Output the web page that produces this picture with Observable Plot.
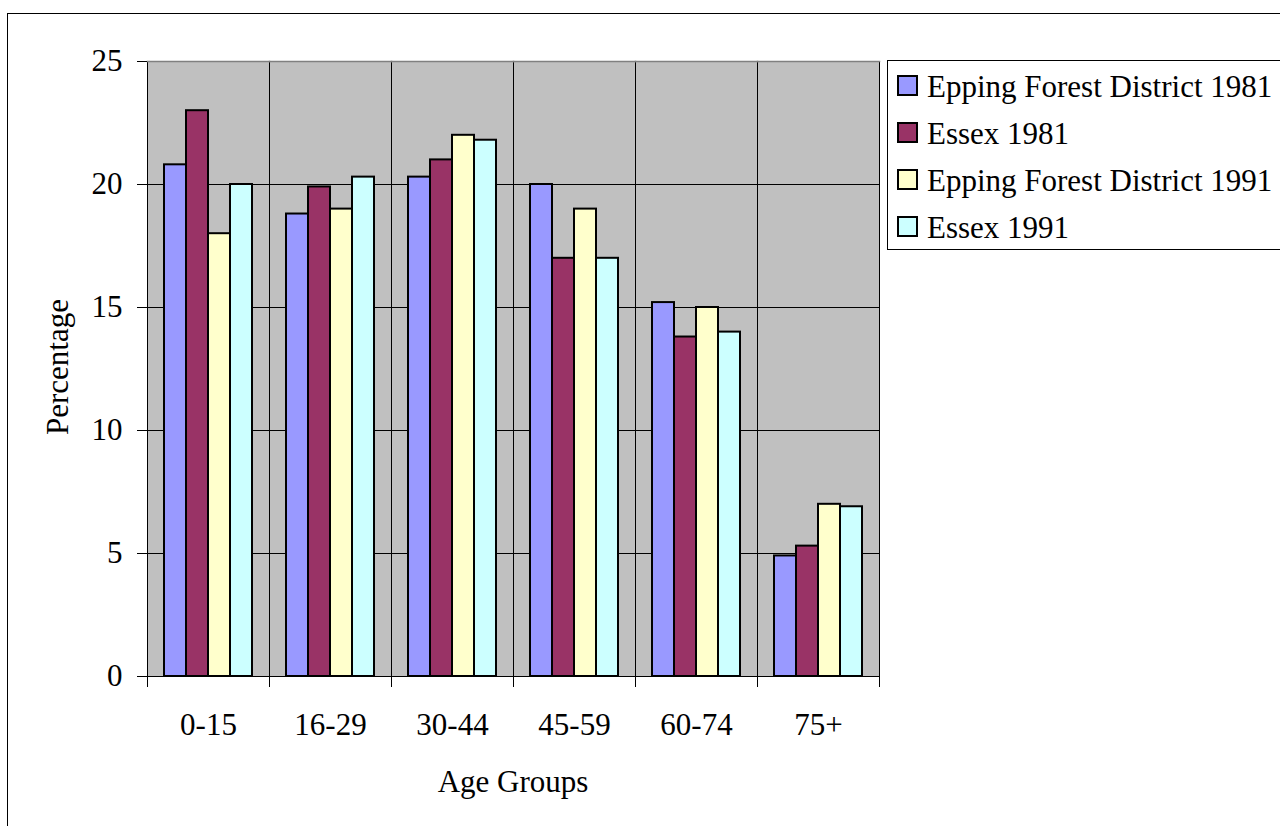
<!DOCTYPE html>
<html>
<head>
<meta charset="utf-8">
<script src="https://cdn.jsdelivr.net/npm/d3@7"></script>
<script src="https://cdn.jsdelivr.net/npm/@observablehq/plot@0.6"></script>
<style>
  html, body { margin: 0; padding: 0; background: #fff; overflow: hidden; width: 1280px; height: 826px; }
  #wrap { position: relative; width: 1280px; height: 826px; }
  #border { position: absolute; left: 7px; top: 13px; width: 1400px; height: 1000px; border: 1px solid #000; box-sizing: border-box; }
  #chart { position: absolute; left: 0; top: 0; }
  #overlay { position: absolute; left: 0; top: 0; pointer-events: none; }
</style>
</head>
<body>
<div id="wrap">
  <div id="border"></div>
  <div id="chart"></div>
  <svg id="overlay" width="1280" height="826"></svg>
</div>
<script>
const groups = ["0-15", "16-29", "30-44", "45-59", "60-74", "75+"];
const series = ["Epping Forest District 1981", "Essex 1981", "Epping Forest District 1991", "Essex 1991"];
const efd1981 = [20.8, 18.8, 20.3, 20.0, 15.2, 4.9];
const essex1981 = [23.0, 19.9, 21.0, 17.0, 13.8, 5.3];
const efd1991 = [18.0, 19.0, 22.0, 19.0, 15.0, 7.0];
const essex1991 = [20.0, 20.3, 21.8, 17.0, 14.0, 6.9];
const colors = ["#9999FF", "#993366", "#FFFFCC", "#CCFFFF"];
const yTicks = [0, 5, 10, 15, 20, 25];
const yLabel = "Percentage";
const xLabel = "Age Groups";

const valuesBySeries = [efd1981, essex1981, efd1991, essex1991];
const data = [];
groups.forEach((g, i) => {
  series.forEach((s, j) => {
    data.push({group: g, series: s, value: valuesBySeries[j][i]});
  });
});

const font = "'Liberation Serif', 'Times New Roman', serif";

const chart = Plot.plot({
  width: 1280,
  height: 826,
  marginLeft: 147,
  marginRight: 401,
  marginTop: 61,
  marginBottom: 150,
  style: {fontFamily: font, fontSize: "31px", background: "transparent", color: "#000"},
  fx: {domain: groups, padding: 0, label: null},
  x: {domain: series, paddingInner: 0, paddingOuter: 0.74, axis: null},
  y: {domain: [0, 25], label: null},
  color: {domain: series, range: colors},
  marks: [
    Plot.frame({fill: "#C0C0C0", stroke: "none"}),
    Plot.gridY(yTicks.filter(t => t > 0 && t < 25), {stroke: "#000", strokeOpacity: 1, strokeWidth: 1}),
    Plot.frame({anchor: "left", stroke: "#000", strokeWidth: 1, insetBottom: -10}),
    Plot.frame({anchor: "right", stroke: "#000", strokeWidth: 1, insetBottom: -10}),
    Plot.barY(data, {fx: "group", x: "series", y: "value", fill: "series", stroke: "#000", strokeWidth: 2}),
    Plot.frame({anchor: "top", stroke: "#808080", strokeWidth: 1.5}),
    Plot.frame({anchor: "bottom", stroke: "#000", strokeWidth: 1}),
    Plot.axisY({ticks: yTicks, tickSize: 10, tickPadding: 15, label: null, tickFormat: d => String(d)}),
    Plot.axisFx({anchor: "bottom", tickSize: 0, tickPadding: 36, label: null})
  ]
});
document.getElementById("chart").appendChild(chart);

// Axis titles and legend overlay
const ov = d3.select("#overlay");
ov.append("text")
  .attr("transform", "translate(68,367) rotate(-90)")
  .attr("text-anchor", "middle")
  .style("font-family", font).style("font-size", "31px")
  .text(yLabel);
ov.append("text")
  .attr("x", 513).attr("y", 792)
  .attr("text-anchor", "middle")
  .style("font-family", font).style("font-size", "31px")
  .text(xLabel);

ov.append("rect")
  .attr("x", 887.5).attr("y", 60.5).attr("width", 420).attr("height", 189)
  .attr("fill", "#fff").attr("stroke", "#000").attr("stroke-width", 1);
series.forEach((s, i) => {
  const cy = 86 + i * 47;
  ov.append("rect")
    .attr("x", 898).attr("y", cy - 10).attr("width", 19).attr("height", 19)
    .attr("fill", colors[i]).attr("stroke", "#000").attr("stroke-width", 2);
  ov.append("text")
    .attr("x", 927).attr("y", cy + 11)
    .style("font-family", font).style("font-size", "31px")
    .text(s);
});
</script>
</body>
</html>
